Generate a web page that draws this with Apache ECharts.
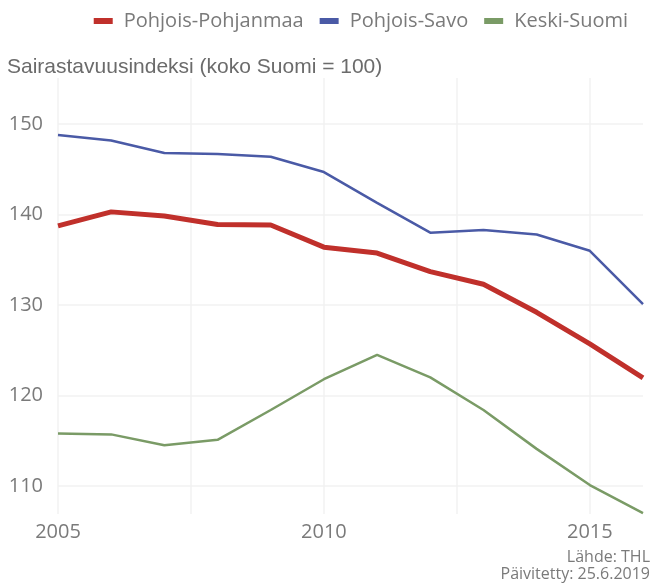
<!DOCTYPE html>
<html>
<head>
<meta charset="utf-8">
<script src="https://cdn.jsdelivr.net/npm/echarts@6/dist/echarts.min.js"></script>
<style>
  html, body { margin: 0; padding: 0; background: #fff; }
  #chart { width: 651px; height: 586px; }
</style>
</head>
<body>
<div id="chart"></div>
<script>
const years = [2005, 2006, 2007, 2008, 2009, 2010, 2011, 2012, 2013, 2014, 2015, 2016];
const pohjoisPohjanmaa = [138.75, 140.3, 139.85, 138.9, 138.85, 136.4, 135.75, 133.7, 132.3, 129.2, 125.7, 121.95];
const pohjoisSavo = [148.8, 148.2, 146.8, 146.7, 146.4, 144.7, 141.3, 138.0, 138.3, 137.8, 136.0, 130.1];
const keskiSuomi = [115.8, 115.7, 114.5, 115.1, 118.4, 121.8, 124.5, 122.0, 118.4, 114.1, 110.1, 107.0];
const yTicks = [110, 120, 130, 140, 150];
const xTicks = [2005, 2007.5, 2010, 2012.5, 2015];
const xLabels = [2005, 2010, 2015];

const pair = (vals) => years.map((y, i) => [y, vals[i]]);
const gridColor = '#f2f2f2';
const labelFont = 'Open Sans';

const chart = echarts.init(document.getElementById('chart'));
chart.setOption({
  animation: false,
  textStyle: { fontFamily: labelFont },
  title: {
    text: 'Sairastavuusindeksi (koko Suomi = 100)',
    left: 2, top: 52,
    textStyle: { fontFamily: 'Liberation Sans', fontSize: 21, fontWeight: 'normal', color: '#6b6b6b' }
  },
  legend: {
    right: 18, top: 6,
    itemWidth: 19, itemHeight: 6, itemGap: 16,
    icon: 'rect',
    textStyle: { fontFamily: labelFont, fontSize: 20, color: '#7a7a7a', padding: [0, 0, 0, 6] }
  },
  graphic: [
    { type: 'text', right: 1, top: 549, style: { text: 'Lähde: THL', fontFamily: labelFont, fontSize: 16, fill: '#7a7a7a', textAlign: 'right' } },
    { type: 'text', right: 1, top: 566, style: { text: 'Päivitetty: 25.6.2019', fontFamily: labelFont, fontSize: 16, fill: '#7a7a7a', textAlign: 'right' } }
  ],
  grid: { left: 58, right: 8, top: 78, bottom: 72 },
  xAxis: {
    type: 'value', min: 2005, max: 2016,
    axisLine: { show: false }, axisTick: { show: false, customValues: xTicks },
    axisLabel: { customValues: xLabels, fontSize: 20, color: '#7a7a7a', margin: 8, formatter: (v) => String(v) },
    splitLine: { show: true, lineStyle: { color: gridColor, width: 1.5 } }
  },
  yAxis: {
    type: 'value', min: 106.9, max: 155.1,
    axisLine: { show: false }, axisTick: { show: false, customValues: yTicks },
    axisLabel: { customValues: yTicks, fontSize: 20, color: '#7a7a7a', margin: 15 },
    splitLine: { show: true, lineStyle: { color: gridColor, width: 1.5 } }
  },
  series: [
    { name: 'Pohjois-Pohjanmaa', type: 'line', data: pair(pohjoisPohjanmaa), showSymbol: false, color: '#c0302b', lineStyle: { width: 5 } },
    { name: 'Pohjois-Savo', type: 'line', data: pair(pohjoisSavo), showSymbol: false, color: '#4a5aa6', lineStyle: { width: 2.5 } },
    { name: 'Keski-Suomi', type: 'line', data: pair(keskiSuomi), showSymbol: false, color: '#7a9b66', lineStyle: { width: 2.5 } }
  ]
});
</script>
</body>
</html>
